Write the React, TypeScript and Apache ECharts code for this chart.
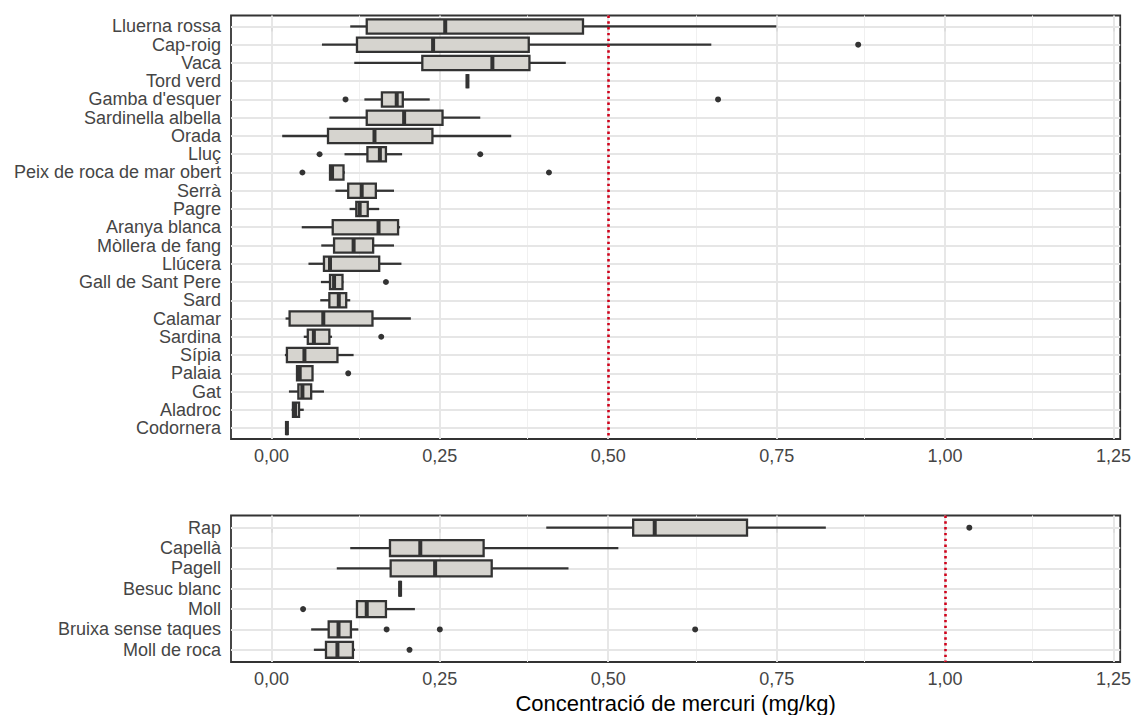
import React, { useEffect, useRef } from "react";
import * as echarts from "echarts";

// ---------- data ----------
const topCategories = [
  "Lluerna rossa", "Cap-roig", "Vaca", "Tord verd", "Gamba d'esquer",
  "Sardinella albella", "Orada", "Lluç", "Peix de roca de mar obert", "Serrà",
  "Pagre", "Aranya blanca", "Mòllera de fang", "Llúcera", "Gall de Sant Pere",
  "Sard", "Calamar", "Sardina", "Sípia", "Palaia", "Gat", "Aladroc", "Codornera",
];
// [lower whisker, Q1, median, Q3, upper whisker]
const topBoxes = [
  [0.117, 0.1415, 0.258, 0.4625, 0.7495],
  [0.075, 0.127, 0.240, 0.382, 0.653],
  [0.123, 0.224, 0.328, 0.383, 0.437],
  [0.291, 0.291, 0.291, 0.291, 0.291],
  [0.138, 0.164, 0.186, 0.195, 0.235],
  [0.086, 0.1415, 0.197, 0.254, 0.310],
  [0.016, 0.084, 0.153, 0.239, 0.356],
  [0.1085, 0.1425, 0.161, 0.170, 0.194],
  [0.087, 0.087, 0.090, 0.107, 0.109],
  [0.095, 0.114, 0.134, 0.155, 0.182],
  [0.116, 0.126, 0.131, 0.143, 0.160],
  [0.045, 0.091, 0.159, 0.188, 0.191],
  [0.074, 0.093, 0.122, 0.151, 0.182],
  [0.055, 0.078, 0.087, 0.160, 0.193],
  [0.0735, 0.087, 0.093, 0.1055, 0.107],
  [0.0725, 0.086, 0.100, 0.111, 0.117],
  [0.021, 0.027, 0.077, 0.150, 0.207],
  [0.048, 0.054, 0.063, 0.086, 0.090],
  [0.020, 0.023, 0.049, 0.098, 0.122],
  [0.038, 0.038, 0.042, 0.061, 0.061],
  [0.026, 0.040, 0.046, 0.059, 0.078],
  [0.030, 0.032, 0.035, 0.041, 0.048],
  [0.023, 0.023, 0.023, 0.023, 0.023],
];
// [category, value]
const topOutliers: [string, number][] = [
  ["Cap-roig", 0.871],
  ["Gamba d'esquer", 0.110],
  ["Gamba d'esquer", 0.663],
  ["Lluç", 0.0715],
  ["Lluç", 0.310],
  ["Peix de roca de mar obert", 0.046],
  ["Peix de roca de mar obert", 0.412],
  ["Gall de Sant Pere", 0.170],
  ["Sardina", 0.163],
  ["Palaia", 0.114],
];

const bottomCategories = [
  "Rap", "Capellà", "Pagell", "Besuc blanc", "Moll", "Bruixa sense taques", "Moll de roca",
];
const bottomBoxes = [
  [0.408, 0.537, 0.569, 0.706, 0.823],
  [0.117, 0.176, 0.221, 0.315, 0.515],
  [0.097, 0.177, 0.243, 0.327, 0.441],
  [0.191, 0.191, 0.191, 0.191, 0.191],
  [0.127, 0.127, 0.1415, 0.170, 0.213],
  [0.059, 0.085, 0.0996, 0.118, 0.129],
  [0.063, 0.081, 0.098, 0.121, 0.124],
];
const bottomOutliers: [string, number][] = [
  ["Rap", 1.036],
  ["Moll", 0.047],
  ["Bruixa sense taques", 0.171],
  ["Bruixa sense taques", 0.250],
  ["Bruixa sense taques", 0.629],
  ["Moll de roca", 0.205],
];

const xMajorTicks = [0, 0.25, 0.5, 0.75, 1.0, 1.25];
const xMinorTicks = [0.125, 0.375, 0.625, 0.875, 1.125];
const topLimit = 0.5;
const bottomLimit = 1.0;
const xTitle = "Concentració de mercuri (mg/kg)";

// ---------- styling ----------
const FONT = "'Liberation Sans', Arial, sans-serif";
const DARK = "#333333";
const BOX_FILL = "#d6d4cf";
const BOX_W = 0.78;

function renderBox(params: any, api: any) {
  const y = api.value(0);
  const low = api.coord([api.value(1), y]);
  const q1 = api.coord([api.value(2), y]);
  const med = api.coord([api.value(3), y]);
  const q3 = api.coord([api.value(4), y]);
  const high = api.coord([api.value(5), y]);
  const h = Math.abs(api.size([0, 1])[1]) * BOX_W;
  const cy = med[1];
  const half = h / 2;
  return {
    type: "group",
    children: [
      { type: "line", shape: { x1: low[0], y1: cy, x2: q1[0], y2: cy }, style: { stroke: DARK, lineWidth: 2.3 } },
      { type: "line", shape: { x1: q3[0], y1: cy, x2: high[0], y2: cy }, style: { stroke: DARK, lineWidth: 2.3 } },
      {
        type: "rect",
        shape: { x: q1[0], y: cy - half, width: q3[0] - q1[0], height: h },
        style: { fill: BOX_FILL, stroke: DARK, lineWidth: 2.3 },
      },
      { type: "line", shape: { x1: med[0], y1: cy - half, x2: med[0], y2: cy + half }, style: { stroke: DARK, lineWidth: 4 } },
    ],
  };
}

function fmtX(v: number) {
  return v.toFixed(2).replace(".", ",");
}

function gridLines(n: number) {
  const data: any[] = [];
  xMajorTicks.forEach((v) => data.push({ xAxis: v, lineStyle: { color: "#e6e6e6", width: 1.9, type: "solid" } }));
  xMinorTicks.forEach((v) => data.push({ xAxis: v, lineStyle: { color: "#f0f0f0", width: 1, type: "solid" } }));
  for (let i = 0; i < n; i++) data.push({ yAxis: i, lineStyle: { color: "#e6e6e6", width: 1.9, type: "solid" } });
  return data;
}

function panel(idx: number, cats: string[], boxes: number[][], outliers: [string, number][], limit: number) {
  const boxData = boxes.map((b, i) => [i, ...b]);
  const outData = outliers.map(([c, v]) => [v, cats.indexOf(c)]);
  return [
    {
      type: "line",
      xAxisIndex: idx,
      yAxisIndex: idx,
      data: [],
      silent: true,
      z: 1,
      markLine: {
        z: 1,
        silent: true,
        symbol: ["none", "none"],
        label: { show: false },
        emphasis: { disabled: true },
        animation: false,
        data: gridLines(cats.length),
      },
    },
    {
      type: "custom",
      xAxisIndex: idx,
      yAxisIndex: idx,
      renderItem: renderBox,
      encode: { x: [1, 2, 3, 4, 5], y: 0 },
      data: boxData,
      silent: true,
      z: 3,
    },
    {
      type: "scatter",
      xAxisIndex: idx,
      yAxisIndex: idx,
      data: outData,
      symbol: "circle",
      symbolSize: 6,
      itemStyle: { color: DARK, opacity: 1 },
      silent: true,
      z: 4,
    },
    {
      type: "line",
      xAxisIndex: idx,
      yAxisIndex: idx,
      data: [],
      silent: true,
      z: 6,
      markLine: {
        z: 8,
        silent: true,
        symbol: ["none", "none"],
        label: { show: false },
        emphasis: { disabled: true },
        animation: false,
        data: [{ xAxis: limit, lineStyle: { color: "#d0021b", width: 2.6, type: [2.4, 3.4] } }],
      },
    },
  ];
}

function xAxisDef(idx: number, withName: boolean) {
  const ax: any = {
    type: "value",
    gridIndex: idx,
    min: -0.06,
    max: 1.26,
    axisLine: { show: false },
    splitLine: { show: false },
    axisTick: { show: true, customValues: xMajorTicks, length: 5, lineStyle: { color: DARK, width: 2 } },
    axisLabel: {
      customValues: xMajorTicks,
      formatter: (v: number) => fmtX(v),
      fontFamily: FONT,
      fontSize: 18,
      color: "#454545",
      margin: 8,
    },
  };
  if (withName) {
    ax.name = xTitle;
    ax.nameLocation = "middle";
    ax.nameGap = 30;
    ax.nameTextStyle = { fontFamily: FONT, fontSize: 22, color: "#000000" };
  }
  return ax;
}

function yAxisDef(idx: number, cats: string[]) {
  const vals = cats.map((_, i) => i);
  return {
    type: "value",
    gridIndex: idx,
    inverse: true,
    min: -0.6,
    max: cats.length - 0.4,
    axisLine: { show: false },
    splitLine: { show: false },
    axisTick: { show: true, customValues: vals, length: 5, lineStyle: { color: DARK, width: 2 } },
    axisLabel: {
      customValues: vals,
      formatter: (v: number) => cats[Math.round(v)] ?? "",
      fontFamily: FONT,
      fontSize: 18,
      color: "#454545",
      margin: 10,
    },
  };
}

export default function App() {
  const ref = useRef<HTMLDivElement>(null);
  useEffect(() => {
    if (!ref.current) return;
    const chart = echarts.init(ref.current, undefined, { renderer: "svg" });
    chart.setOption({
      animation: false,
      backgroundColor: "#ffffff",
      grid: [
        { left: 231, top: 15.5, width: 891, height: 423.5, show: true, borderColor: DARK, borderWidth: 1.8, backgroundColor: "transparent" },
        { left: 231, top: 515.5, width: 891, height: 148, show: true, borderColor: DARK, borderWidth: 1.8, backgroundColor: "transparent" },
      ],
      xAxis: [xAxisDef(0, false), xAxisDef(1, true)],
      yAxis: [yAxisDef(0, topCategories), yAxisDef(1, bottomCategories)],
      series: [
        ...panel(0, topCategories, topBoxes, topOutliers, topLimit),
        ...panel(1, bottomCategories, bottomBoxes, bottomOutliers, bottomLimit),
      ],
    });
    return () => chart.dispose();
  }, []);
  return (
    <div
      ref={ref}
      style={{ position: "absolute", left: 0, top: 0, width: 1134, height: 715, background: "#fff" }}
    />
  );
}
